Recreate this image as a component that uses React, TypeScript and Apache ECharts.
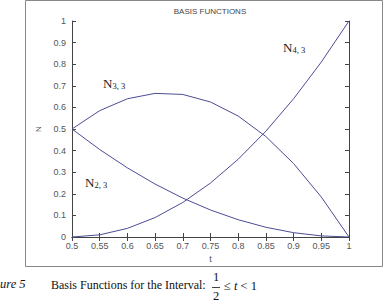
import React, { useEffect, useRef } from "react";
import * as echarts from "echarts";

const tValues = [0.5, 0.55, 0.6, 0.65, 0.7, 0.75, 0.8, 0.85, 0.9, 0.95, 1];
const n23 = [0.5, 0.405, 0.32, 0.245, 0.18, 0.125, 0.08, 0.045, 0.02, 0.005, 0];
const n33 = [0.5, 0.585, 0.64, 0.665, 0.66, 0.625, 0.56, 0.465, 0.34, 0.185, 0];
const n43 = [0, 0.01, 0.04, 0.09, 0.16, 0.25, 0.36, 0.49, 0.64, 0.81, 1];
const seriesNames = ["N2,3", "N3,3", "N4,3"];
const curveLabels = [
  { main: "N", sub: "2, 3", x: 85, y: 176 },
  { main: "N", sub: "3, 3", x: 103, y: 77 },
  { main: "N", sub: "4, 3", x: 283, y: 41 },
];
const titleText = "BASIS FUNCTIONS";
const xName = "t";
const yName = "N";
const captionLeft = "ure 5";
const captionMain = "Basis Functions for the Interval:";

const lineColor = "#4c4c94";
const axisColor = "#444";
const labelColor = "#555";

function fmt(v: number) {
  return String(Math.round(v * 100) / 100);
}

export default function App() {
  const ref = useRef<HTMLDivElement>(null);
  useEffect(() => {
    if (!ref.current) return;
    const chart = echarts.init(ref.current, null, { renderer: "svg" });
    const data = [n23, n33, n43];
    const sans = "Liberation Sans, Arial, sans-serif";
    const serif = "Liberation Serif, Times New Roman, serif";
    const baseX = {
      type: "value" as const,
      min: 0.5,
      max: 1,
      interval: 0.05,
      splitLine: { show: false },
      axisLine: { lineStyle: { color: axisColor, width: 1 } },
      axisTick: { inside: true, length: 4, lineStyle: { color: axisColor } },
    };
    const baseY = {
      type: "value" as const,
      min: 0,
      max: 1,
      interval: 0.1,
      splitLine: { show: false },
      axisLine: { lineStyle: { color: axisColor, width: 1 } },
      axisTick: { inside: true, length: 4, lineStyle: { color: axisColor } },
    };
    chart.setOption({
      animation: false,
      backgroundColor: "#fff",
      grid: { left: 72, right: 40, top: 21, bottom: 67, containLabel: false },
      xAxis: [
        {
          ...baseX,
          position: "bottom",
          name: xName,
          nameLocation: "middle",
          nameGap: 17,
          nameTextStyle: { color: labelColor, fontSize: 9, fontFamily: sans },
          axisLabel: { color: labelColor, fontSize: 9, fontFamily: sans, margin: 4, formatter: fmt },
        },
        { ...baseX, position: "top", axisLabel: { show: false } },
      ],
      yAxis: [
        {
          ...baseY,
          position: "left",
          name: yName,
          nameLocation: "middle",
          nameGap: 24,
          nameRotate: 90,
          nameTextStyle: { color: labelColor, fontSize: 8, fontFamily: sans },
          axisLabel: { color: labelColor, fontSize: 9, fontFamily: sans, margin: 6, formatter: fmt },
        },
        { ...baseY, position: "right", axisLabel: { show: false } },
      ],
      series: data.map((d, i) => ({
        name: seriesNames[i],
        type: "line",
        data: tValues.map((t, j) => [t, d[j]]),
        showSymbol: false,
        smooth: false,
        lineStyle: { color: lineColor, width: 1 },
        z: 3,
      })),
      graphic: [
        {
          type: "rect",
          shape: { x: 25.5, y: 0.5, width: 357, height: 266 },
          style: { fill: "none", stroke: "#888", lineWidth: 1 },
          silent: true,
        },
        {
          type: "text",
          x: 210,
          y: 11,
          style: {
            text: titleText,
            fill: "#444",
            fontSize: 8,
            fontFamily: sans,
            align: "center",
            verticalAlign: "middle",
          },
        },
        ...curveLabels.map((c) => ({
          type: "text",
          x: c.x,
          y: c.y,
          style: {
            text: `{m|${c.main}}{s|${c.sub}}`,
            rich: {
              m: { fontSize: 13, fontFamily: serif, fill: "#222", verticalAlign: "bottom" },
              s: { fontSize: 8.5, fontFamily: serif, fill: "#222", verticalAlign: "bottom" },
            },
          },
        })),
        {
          type: "text",
          x: 0,
          y: 284,
          style: { text: captionLeft, fontSize: 12.5, fontStyle: "italic", fontFamily: serif, fill: "#111", verticalAlign: "middle" },
        },
        {
          type: "text",
          x: 51,
          y: 285,
          style: { text: captionMain, fontSize: 12, fontFamily: serif, fill: "#111", verticalAlign: "middle" },
        },
        {
          type: "text",
          x: 216,
          y: 277,
          style: { text: "1", fontSize: 12.5, fontFamily: serif, fill: "#111", align: "center", verticalAlign: "middle" },
        },
        {
          type: "line",
          shape: { x1: 212, y1: 287.5, x2: 220, y2: 287.5 },
          style: { stroke: "#111", lineWidth: 0.8 },
        },
        {
          type: "text",
          x: 216,
          y: 296,
          style: { text: "2", fontSize: 12.5, fontFamily: serif, fill: "#111", align: "center", verticalAlign: "middle" },
        },
        {
          type: "text",
          x: 224,
          y: 286,
          style: {
            text: "{a|≤ }{b|t}{a| < 1}",
            rich: {
              a: { fontSize: 12.5, fontFamily: serif, fill: "#111" },
              b: { fontSize: 12.5, fontFamily: serif, fontStyle: "italic", fill: "#111" },
            },
            verticalAlign: "middle",
          },
        },
      ],
    });
    return () => chart.dispose();
  }, []);
  return <div ref={ref} style={{ width: 389, height: 304, position: "absolute", left: 0, top: 0 }} />;
}
